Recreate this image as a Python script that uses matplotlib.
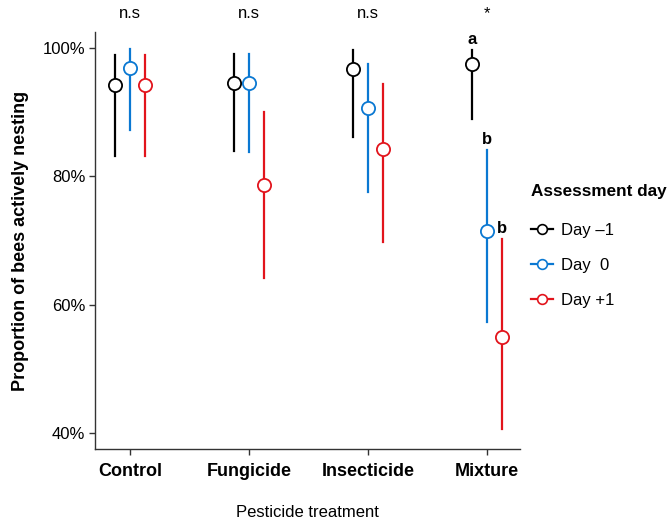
import matplotlib
matplotlib.use("Agg")
import matplotlib.pyplot as plt
from matplotlib.lines import Line2D
import numpy as np

plt.rcParams['font.family'] = ['Liberation Sans', 'DejaVu Sans']

categories = ["Control", "Fungicide", "Insecticide", "Mixture"]
days = ["Day \u20131", "Day  0", "Day +1"]
colors = ["#000000", "#0A78D2", "#E2141C"]

# mean, upper, lower (%) per day, per category
means = [
    [94.3, 94.6, 96.8, 97.5],
    [96.9, 94.5, 90.6, 71.5],
    [94.3, 78.6, 84.3, 54.9],
]
upper = [
    [98.9, 99.1, 99.7, 99.7],
    [99.8, 99.1, 97.6, 84.1],
    [98.9, 90.0, 94.4, 70.2],
]
lower = [
    [83.2, 83.9, 86.1, 88.9],
    [87.2, 83.8, 77.5, 57.3],
    [83.2, 64.2, 69.8, 40.6],
]
signif = ["n.s", "n.s", "n.s", "*"]
letters = {(0, 3): "a", (1, 3): "b", (2, 3): "b"}

fig = plt.figure(figsize=(6.71, 5.19), dpi=100)
ax = fig.add_axes([0.1416, 0.1349, 0.775 - 0.1416, 0.938 - 0.1349])

xpos = np.arange(1, len(categories) + 1)
offsets = [-0.125, 0.0, 0.125]
for d in range(3):
    x = xpos + offsets[d]
    for i in range(len(categories)):
        ax.plot([x[i], x[i]], [lower[d][i], upper[d][i]], color=colors[d], lw=1.6, zorder=2)
    ax.plot(x, means[d], 'o', ms=9.5, mfc='white', mec=colors[d], mew=1.3, zorder=3)
    for i in range(len(categories)):
        if (d, i) in letters:
            ax.text(x[i], upper[d][i] + 0.5, letters[(d, i)], ha='center', va='bottom',
                    fontsize=12, fontweight='bold')

for i, s in enumerate(signif):
    ax.text(xpos[i], 104.2, s, ha='center', va='bottom', fontsize=12, clip_on=False)

ax.set_xlim(0.705, 4.28)
ax.set_ylim(37.5, 102.5)
ax.set_xticks(xpos)
ax.set_xticklabels(categories, fontsize=13, fontweight='bold')
ax.set_yticks([40, 60, 80, 100])
ax.set_yticklabels(["40%", "60%", "80%", "100%"], fontsize=12)
ax.spines['top'].set_visible(False)
ax.spines['right'].set_visible(False)
for sp in ['left', 'bottom']:
    ax.spines[sp].set_color('#333333')
    ax.spines[sp].set_linewidth(1.0)
ax.tick_params(axis='both', length=4, color='#333333', width=1.0, pad=3)
ax.tick_params(axis='x', pad=6)
ax.set_ylabel("Proportion of bees actively nesting", fontsize=13, fontweight='bold', labelpad=10)
ax.set_xlabel("Pesticide treatment", fontsize=12, labelpad=18)

handles = [Line2D([0], [0], color=colors[d], lw=1.6, marker='o', ms=7, mfc='white',
                  mec=colors[d], mew=1.2) for d in range(3)]
leg = fig.legend(handles, days, loc='upper left', bbox_to_anchor=(0.774, 0.668),
                 frameon=False, fontsize=12, title="Assessment day", handlelength=1.3,
                 labelspacing=1.2, handletextpad=0.5, alignment='left', borderpad=0.2)
leg.get_title().set_fontweight('bold')
leg.get_title().set_fontsize(12.3)
leg._legend_box.sep = 17

fig.savefig("out.png", dpi=100)
